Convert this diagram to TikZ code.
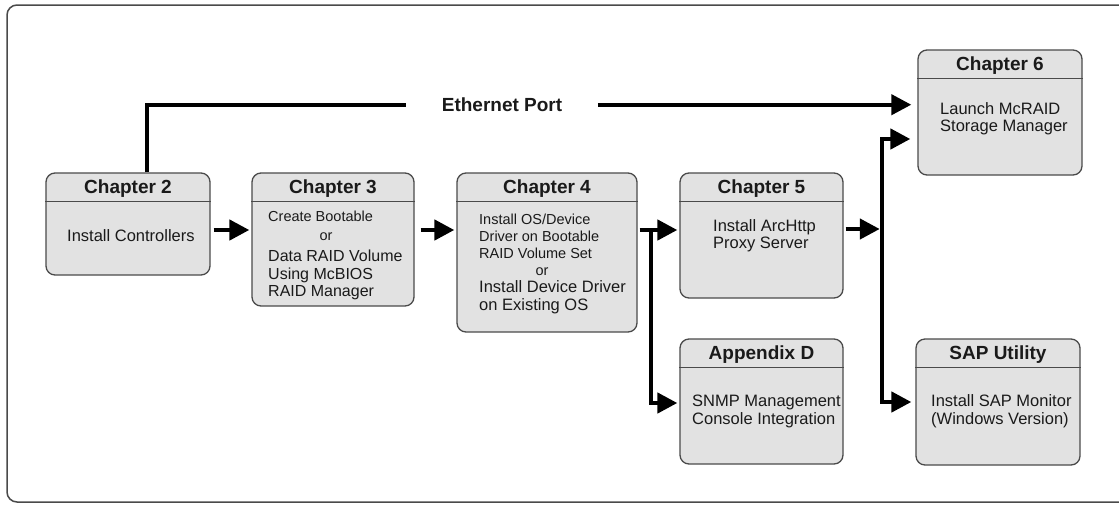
\documentclass[tikz,border=0pt]{standalone}
\usepackage{fontspec}
\setmainfont{Liberation Sans}
\usetikzlibrary{arrows.meta}
\definecolor{boxfill}{HTML}{E2E2E2}
\definecolor{boxline}{HTML}{4A4A4A}
\definecolor{ink}{HTML}{1A1A1A}
\begin{document}
\begin{tikzpicture}[x=1pt,y=-1pt,
  box/.style={draw=boxline, fill=boxfill, line width=1.3pt, rounded corners=9pt, inner sep=0pt},
  hdr/.style={draw=boxline, line width=1.2pt},
  frame/.style={draw=boxline, line width=1.5pt, rounded corners=10pt},
  title/.style={anchor=base, inner sep=0pt, text=ink, font=\bfseries\fontsize{19}{21}\selectfont},
  t/.style={anchor=base west, inner sep=0pt, text=ink, font=\fontsize{16.5}{18}\selectfont},
  tm/.style={t, font=\fontsize{16}{18}\selectfont},
  ts/.style={t, font=\fontsize{14.5}{16}\selectfont},
  arr/.style={draw=black, line width=4.5pt, line join=miter, -{Triangle[length=20pt,width=20pt]}},
  eline/.style={draw=black, line width=4.2pt, line join=miter},
  earr/.style={eline, -{Triangle[length=20pt,width=20pt]}}
]
\useasboundingbox (0,0) rectangle (1119,504);
\clip (0,0) rectangle (1119,504);
\draw[frame] (1160,5) -- (7,5) -- (7,502) -- (1160,502);

% boxes
\node[box, minimum width=164pt, minimum height=102pt] (c2) at (128,224) {};
\node[box, minimum width=162pt, minimum height=133pt] (c3) at (333,239.5) {};
\node[box, minimum width=180pt, minimum height=159pt] (c4) at (547,252.5) {};
\node[box, minimum width=163pt, minimum height=125pt] (c5) at (761.5,235.5) {};
\node[box, minimum width=163pt, minimum height=125pt] (ad) at (761.5,401.5) {};
\node[box, minimum width=164pt, minimum height=126pt] (sap) at (998,402) {};
\node[box, minimum width=164pt, minimum height=125pt] (c6) at (1000,112.5) {};

\foreach \b in {c2,c3,c4,c5,ad,sap,c6}
  \draw[hdr] ([yshift=-29pt]\b.north west) -- ([yshift=-29pt]\b.north east);

% titles
\node[title] (h2) at ([yshift=-21pt]c2.north) {Chapter 2};
\node[title] (h3) at ([yshift=-21pt]c3.north) {Chapter 3};
\node[title] (h4) at ([yshift=-21pt]c4.north) {Chapter 4};
\node[title] (h5) at ([yshift=-21pt]c5.north) {Chapter 5};
\node[title] (had) at ([yshift=-21pt]ad.north) {Appendix D};
\node[title] (hsap) at ([yshift=-21pt]sap.north) {SAP Utility};
\node[title] (h6) at ([yshift=-21pt]c6.north) {Chapter 6};

% body texts
\node[t] (t2) at (67,241.5) {Install Controllers};

\node[ts] (t3a) at (268,221.5) {Create Bootable};
\node[ts, anchor=base] (t3b) at (326,240) {or};
\node[tm] (t3c) at (268,261.5) {Data RAID Volume};
\node[tm] (t3d) at (268,279) {Using McBIOS};
\node[tm] (t3e) at (268,296.5) {RAID Manager};

\node[ts] (t4a) at (479,224) {Install OS/Device};
\node[ts] (t4b) at (479,241.5) {Driver on Bootable};
\node[ts] (t4c) at (479,258.5) {RAID Volume Set};
\node[ts, anchor=base] (t4d) at (542,275) {or};
\node[t] (t4e) at (479,292.5) {Install Device Driver};
\node[t] (t4f) at (479,310) {on Existing OS};

\node[t] (t5a) at (713,231.5) {Install ArcHttp};
\node[t] (t5b) at (713,248.5) {Proxy Server};

\node[t] (tada) at (692,406.5) {SNMP Management};
\node[t] (tadb) at (692,424) {Console Integration};

\node[t] (tsapa) at (931,406.5) {Install SAP Monitor};
\node[t] (tsapb) at (931,424) {(Windows Version)};

\node[t] (t6a) at (940,114) {Launch McRAID};
\node[t] (t6b) at (940,131.5) {Storage Manager};

% Ethernet port
\node[title, inner xsep=35.5pt, inner ysep=0pt] (eth) at (502,111.5) {Ethernet Port};
\draw[eline] ([xshift=19pt]c2.north) |- (eth.west);
\draw[earr, shorten >=6pt] (eth.east) -- (eth.east -| c6.west);

% main flow
\coordinate (row) at (0,230);
\coordinate (j1) at (651,230);
\coordinate (j2) at (882,229);
\draw[arr, shorten <=3pt, shorten >=2pt] (c2.east |- row) -- (c3.west |- row);
\draw[arr, shorten <=6pt, shorten >=2pt] (c3.east |- row) -- (c4.west |- row);
\draw[arr, shorten <=2pt, shorten >=2pt] (c4.east |- row) -- (c5.west |- row);
\draw[arr, shorten >=2pt] (j1) |- ([yshift=-1.5pt]ad.west);
\draw[arr, shorten <=2pt, shorten >=2.25pt] (c5.east |- j2) -- (j2);
\draw[arr, shorten >=7pt] ([yshift=-2.25pt]j2) |- ([yshift=-26.5pt]c6.west);
\draw[arr, shorten >=4pt] ([yshift=2.25pt]j2) |- (sap.west);
\end{tikzpicture}
\end{document}
